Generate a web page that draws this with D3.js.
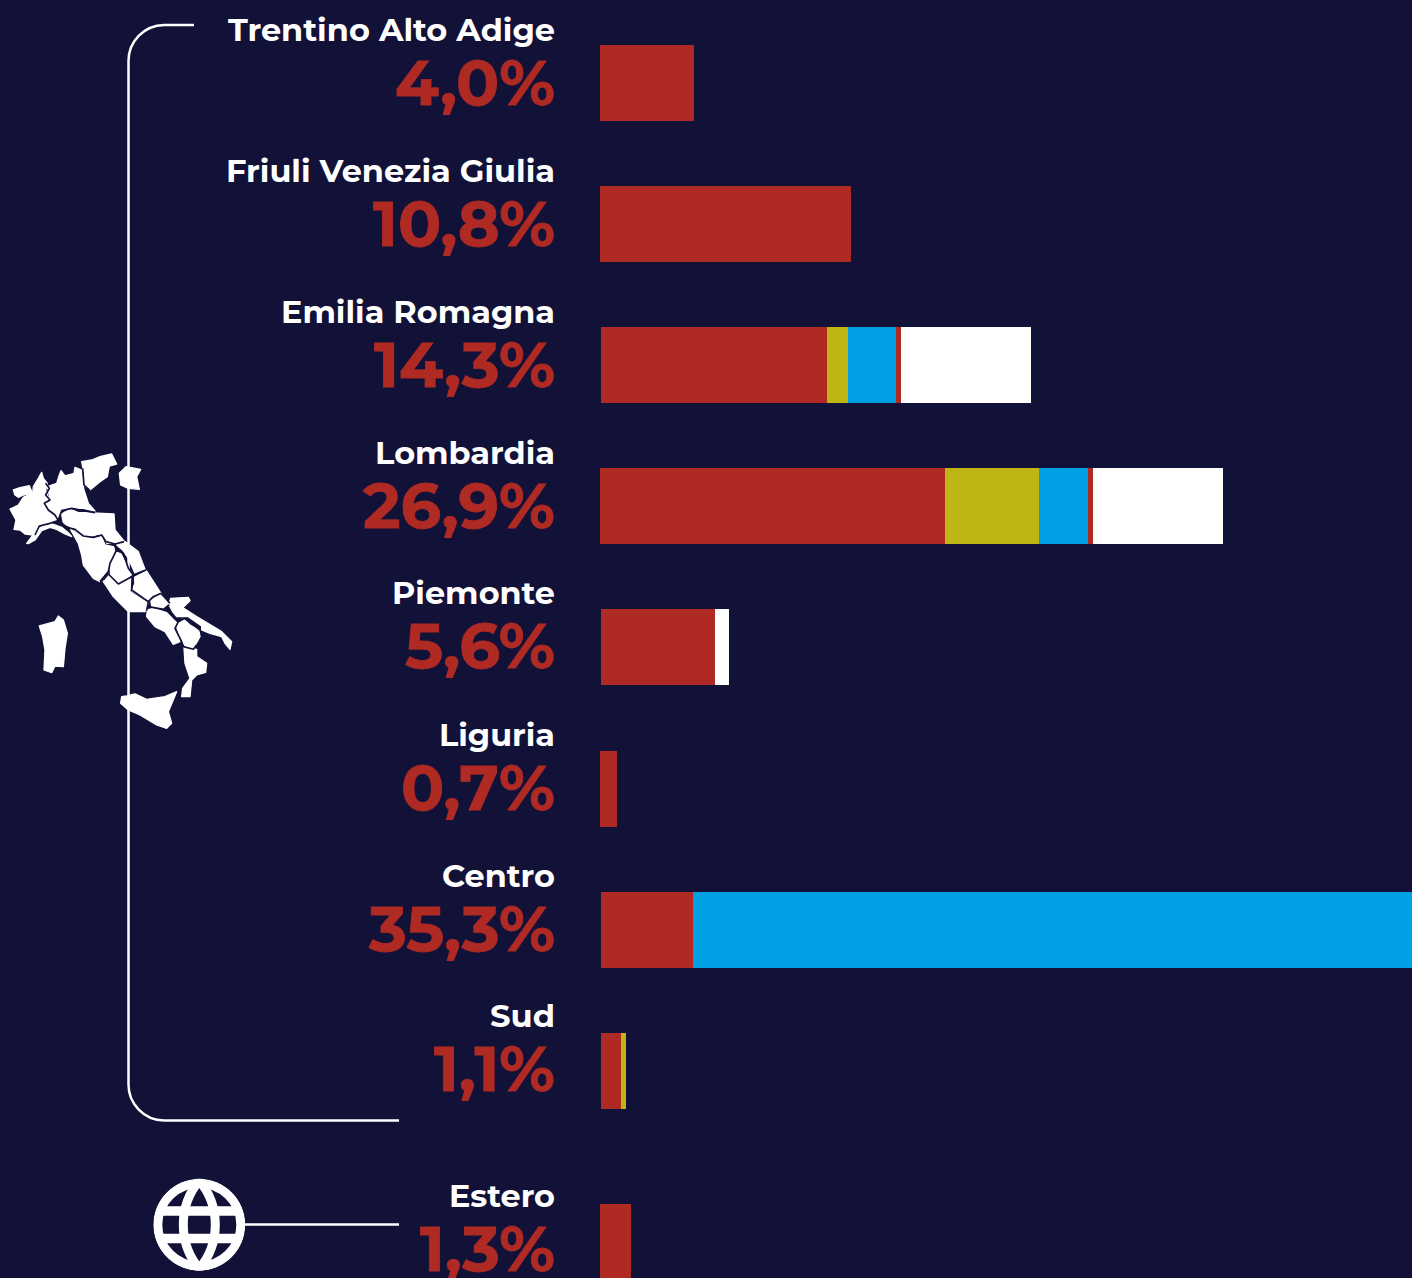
<!DOCTYPE html>
<html><head><meta charset="utf-8">
<script src="https://cdn.jsdelivr.net/npm/d3@7"></script>
<style>html,body{margin:0;padding:0;background:#121138;overflow:hidden}</style></head>
<body><div id="chart"></div>
<script>
const regions=["Trentino Alto Adige","Friuli Venezia Giulia","Emilia Romagna","Lombardia","Piemonte","Liguria","Centro","Sud","Estero"];
const totals=["4,0%","10,8%","14,3%","26,9%","5,6%","0,7%","35,3%","1,1%","1,3%"];
const starts=[0,0,0.04,0,0.04,0,0.04,0.04,0];
const seriesRedA=[4.05,10.82,9.74,14.87,4.91,0.73,3.97,0.86,1.34];
const seriesOlive=[0,0,0.9,4.05,0,0,0,0.22,0];
const seriesBlue=[0,0,2.07,2.11,0,0,31.3,0,0];
const seriesRedB=[0,0,0.22,0.22,0,0,0,0,0];
const seriesWhite=[0,0,5.62,5.62,0.6,0,0,0,0];
const seriesList=[seriesRedA,seriesOlive,seriesBlue,seriesRedB,seriesWhite];
const seriesColors=["#b02a24","#bfb616","#00a0e4","#b02a24","#ffffff"];

const W=1412,H=1278,BG="#121138";
const svg=d3.select("#chart").append("svg").attr("width",W).attr("height",H).style("display","block");
svg.append("rect").attr("width",W).attr("height",H).attr("fill",BG);

const x=d3.scaleLinear().domain([0,10]).range([600,832]);
const y=d3.scaleLinear().domain([0,7]).range([44.8,1033]);
const rowY=i=>i<8?y(i):1204;
const textShift=i=>[0,0,0,0,-1,-1,-1,-2,7][i];
const barH=76;

const rows=svg.append("g").selectAll("g").data(regions).join("g");
seriesList.forEach((s,k)=>{
  rows.append("rect")
    .attr("x",(d,i)=>x(starts[i]+d3.sum(seriesList.slice(0,k),t=>t[i])))
    .attr("y",(d,i)=>rowY(i))
    .attr("height",barH)
    .attr("width",(d,i)=>x(s[i])-x(0))
    .attr("fill",seriesColors[k])
    .attr("shape-rendering","crispEdges");
});
const font="Montserrat, Inter, sans-serif";
const nameW=[327,329,274,180,163,116,113,65,106];
const pctW=[160,182,181,192,150,154,186,121,135];
rows.append("text").text(d=>d)
  .attr("x",555).attr("y",(d,i)=>Math.round(rowY(i))-4+textShift(i))
  .attr("text-anchor","end").attr("fill","#fff")
  .attr("font-family",font).attr("font-weight",700).attr("font-size",31)
  .attr("textLength",(d,i)=>nameW[i]).attr("lengthAdjust","spacingAndGlyphs");
rows.append("text").text((d,i)=>totals[i])
  .attr("x",555).attr("y",(d,i)=>Math.round(rowY(i))+60+textShift(i))
  .attr("text-anchor","end").attr("fill","#b02a24")
  .attr("font-family",font).attr("font-weight",700).attr("font-size",62)
  .attr("stroke","#b02a24").attr("stroke-width",0.8)
  .attr("textLength",(d,i)=>pctW[i]).attr("lengthAdjust","spacingAndGlyphs");

// bracket
svg.append("path").attr("d","M194,25H164A36,36 0 0 0 128.500,61V1084A36,36 0 0 0 164,1120.500H399")
  .attr("fill","none").attr("stroke","#fff").attr("stroke-width",2.5);

// map, traced in a 3x local frame
const map=svg.append("g").attr("transform","translate(0,440) scale(0.3333)");
const shapes=[
"40,150 60,143 88,137 97,160 70,165 55,172 45,165",
"30,207 55,195 70,172 98,160 100,140 115,115 125,97 130,115 142,130 137,150 148,180 132,190 140,210 165,225 170,240 140,250 118,255 100,285 75,282 60,270 42,268 48,240 38,222",
"80,310 95,290 110,268 130,258 150,250 165,255 185,262 205,278 215,290 195,282 170,268 150,262 125,272 105,300 85,311",
"142,140 170,130 178,105 183,92 195,108 222,100 225,82 245,90 248,130 252,150 265,190 285,213 250,205 215,205 185,210 175,235 160,220 135,200 133,185 150,175",
"245,65 275,60 300,50 335,42 350,72 328,78 322,110 300,125 270,150 252,135 252,100",
"358,100 378,80 422,88 410,110 418,148 385,145 362,135",
"185,222 210,207 235,218 260,218 342,222 345,270 372,303 345,310 320,310 310,285 295,283 265,292 240,285 215,262 190,250",
"210,265 235,285 265,295 305,290 315,315 340,320 345,330 328,370 325,395 300,425 280,415 250,375 245,345 235,310",
"350,315 375,305 415,335 435,388 405,400 385,355 368,330",
"340,335 362,340 385,385 397,402 360,432 332,405 330,370",
"310,425 325,402 355,435 392,415 390,455 445,490 435,515 385,515 360,490 340,470",
"403,412 440,393 483,460 455,470 445,483 395,452 405,430",
"452,480 485,462 505,490 490,505 455,498",
"512,475 565,472 570,482 548,503 590,530 640,560 665,575 695,605 690,628 675,610 665,590 630,580 605,570 605,558 565,530 530,530 505,500",
"442,510 460,505 500,518 530,548 525,565 540,605 520,613 495,575 465,560 440,530",
"528,555 550,537 570,555 598,570 600,590 580,625 555,618 540,590",
"552,622 590,628 590,650 620,670 617,697 590,705 575,720 570,770 545,770 548,745 570,715 555,670",
"365,770 380,768 405,762 440,778 495,770 530,755 505,815 515,850 500,865 470,855 420,825 385,810 362,790",
"118,558 165,545 175,528 190,540 202,580 195,625 190,680 165,678 155,698 132,690 135,630 128,590"
];
const borders=[
"137,130 148,145 137,165 150,180 133,190 145,210 165,225 175,242",
"175,242 150,250 118,258 105,285",
"175,240 185,212 215,205 250,212 285,218",
"175,240 200,262 225,268 250,288 280,292 305,285 318,305 345,312 372,305",
"345,312 350,330 330,370 325,395 300,425",
"345,328 370,340 385,385 400,405",
"310,420 325,402 355,432 395,410",
"400,405 437,390",
"400,410 395,450 445,485",
"445,485 460,470 483,460",
"445,485 440,512",
"445,500 490,508 508,495",
"483,460 510,490",
"505,500 520,530 535,545",
"535,545 525,565 545,605 550,620",
"535,545 555,535 600,570 605,585",
"550,620 580,628 590,615",
"248,85 252,135 270,152"
];
map.selectAll("polygon").data(shapes).join("polygon").attr("points",d=>d).attr("fill","#fff").attr("stroke","#fff").attr("stroke-width",4).attr("stroke-linejoin","round");
map.selectAll("polyline").data(borders).join("polyline").attr("points",d=>d).attr("fill","none").attr("stroke",BG).attr("stroke-width",5).attr("stroke-linejoin","round");

// globe
const clip=svg.append("clipPath").attr("id","globeClip");
clip.append("circle").attr("r",46);
const g=svg.append("g").attr("transform","translate(199.300,1224.700)").attr("clip-path","url(#globeClip)");
g.append("circle").attr("r",41.500).attr("fill","none").attr("stroke","#fff").attr("stroke-width",9);
g.append("path").attr("d","M0,-44A68.500,68.500 0 0 1 0,44A68.500,68.500 0 0 1 0,-44Z").attr("fill","none").attr("stroke","#fff").attr("stroke-width",9);
[-13.700,13.700].forEach(v=>g.append("line").attr("x1",-39).attr("x2",39).attr("y1",v).attr("y2",v).attr("stroke","#fff").attr("stroke-width",9.500));
svg.append("line").attr("x1",245).attr("x2",399).attr("y1",1224.500).attr("y2",1224.500).attr("stroke","#fff").attr("stroke-width",2.5);
</script></body></html>
